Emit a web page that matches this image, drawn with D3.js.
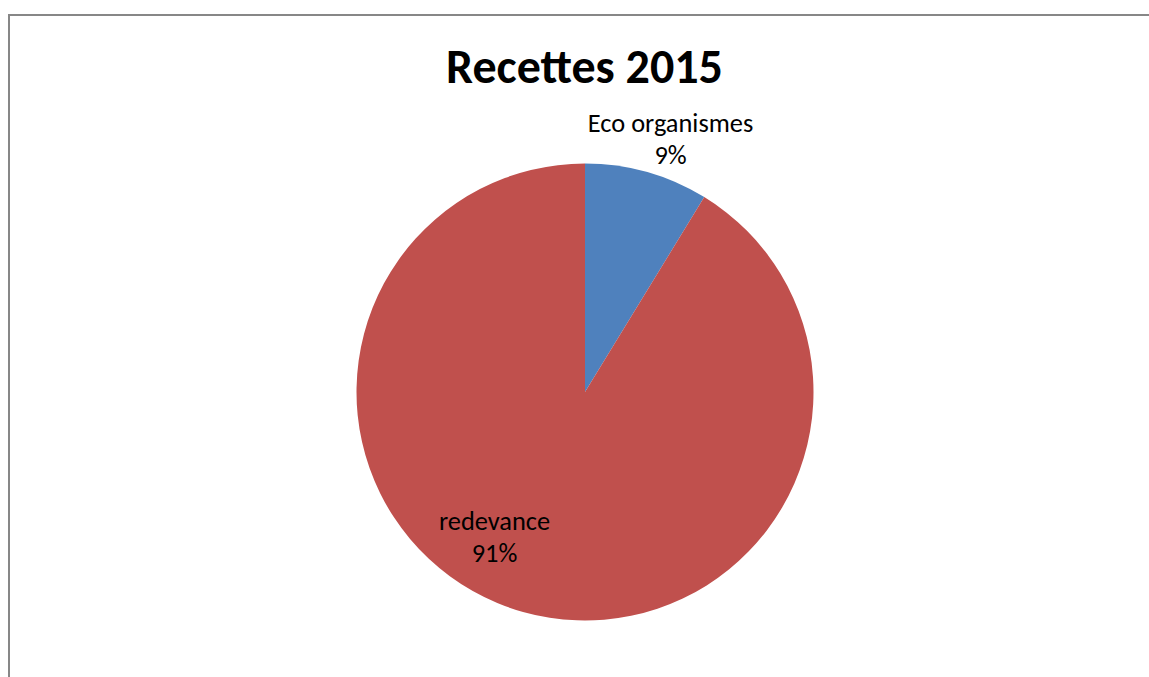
<!DOCTYPE html>
<html><head><meta charset="utf-8">
<script src="https://cdn.jsdelivr.net/npm/d3@7"></script>
<style>
html,body{margin:0;padding:0;background:#fff;overflow:hidden}
text{font-family:Carlito,Calibri,Lato,"Open Sans",sans-serif}
</style></head><body>
<svg id="chart" width="1149" height="677"></svg>
<script>
const title = "Recettes 2015";
const categories = ["Eco organismes", "redevance"];
const values = [8.74, 91.26];
const colors = ["#4F81BD", "#C0504D"];

const svg = d3.select("#chart");
// frame
svg.append("rect").attr("x", 9).attr("y", 15).attr("width", 1200).attr("height", 700)
  .attr("fill", "#fff").attr("stroke", "#878787").attr("stroke-width", 2);

svg.append("text").attr("x", 584.5).attr("y", 83).attr("text-anchor", "middle")
  .attr("font-size", 48).attr("font-weight", "bold").attr("fill", "#000").text(title);

const cx = 585, cy = 392, r = 228.5;
const g = svg.append("g").attr("transform", `translate(${cx},${cy})`);
const data = categories.map((c, i) => ({cat: c, value: values[i], color: colors[i]}));
const pie = d3.pie().sort(null).value(d => d.value);
const arcs = pie(data);
const arc = d3.arc().innerRadius(0).outerRadius(r);
g.selectAll("path").data(arcs).enter().append("path")
  .attr("d", arc).attr("fill", d => d.data.color);

const total = d3.sum(values);
const fmt = v => Math.round(v / total * 100) + "%";
// label placement: angle (deg) and radius from centre
const place = [{a: 19.28, rad: 259}, {a: 210.44, rad: 178.6}];
arcs.forEach((d, i) => {
  const a = place[i].a * Math.PI / 180;
  const x = Math.sin(a) * place[i].rad, y = -Math.cos(a) * place[i].rad;
  const t = g.append("text").attr("text-anchor", "middle").attr("font-size", 26.4).attr("fill", "#000");
  t.append("tspan").attr("x", x).attr("y", y - 15.5).text(d.data.cat);
  t.append("tspan").attr("x", x).attr("y", y + 16.5).text(fmt(d.data.value));
});
</script></body></html>
